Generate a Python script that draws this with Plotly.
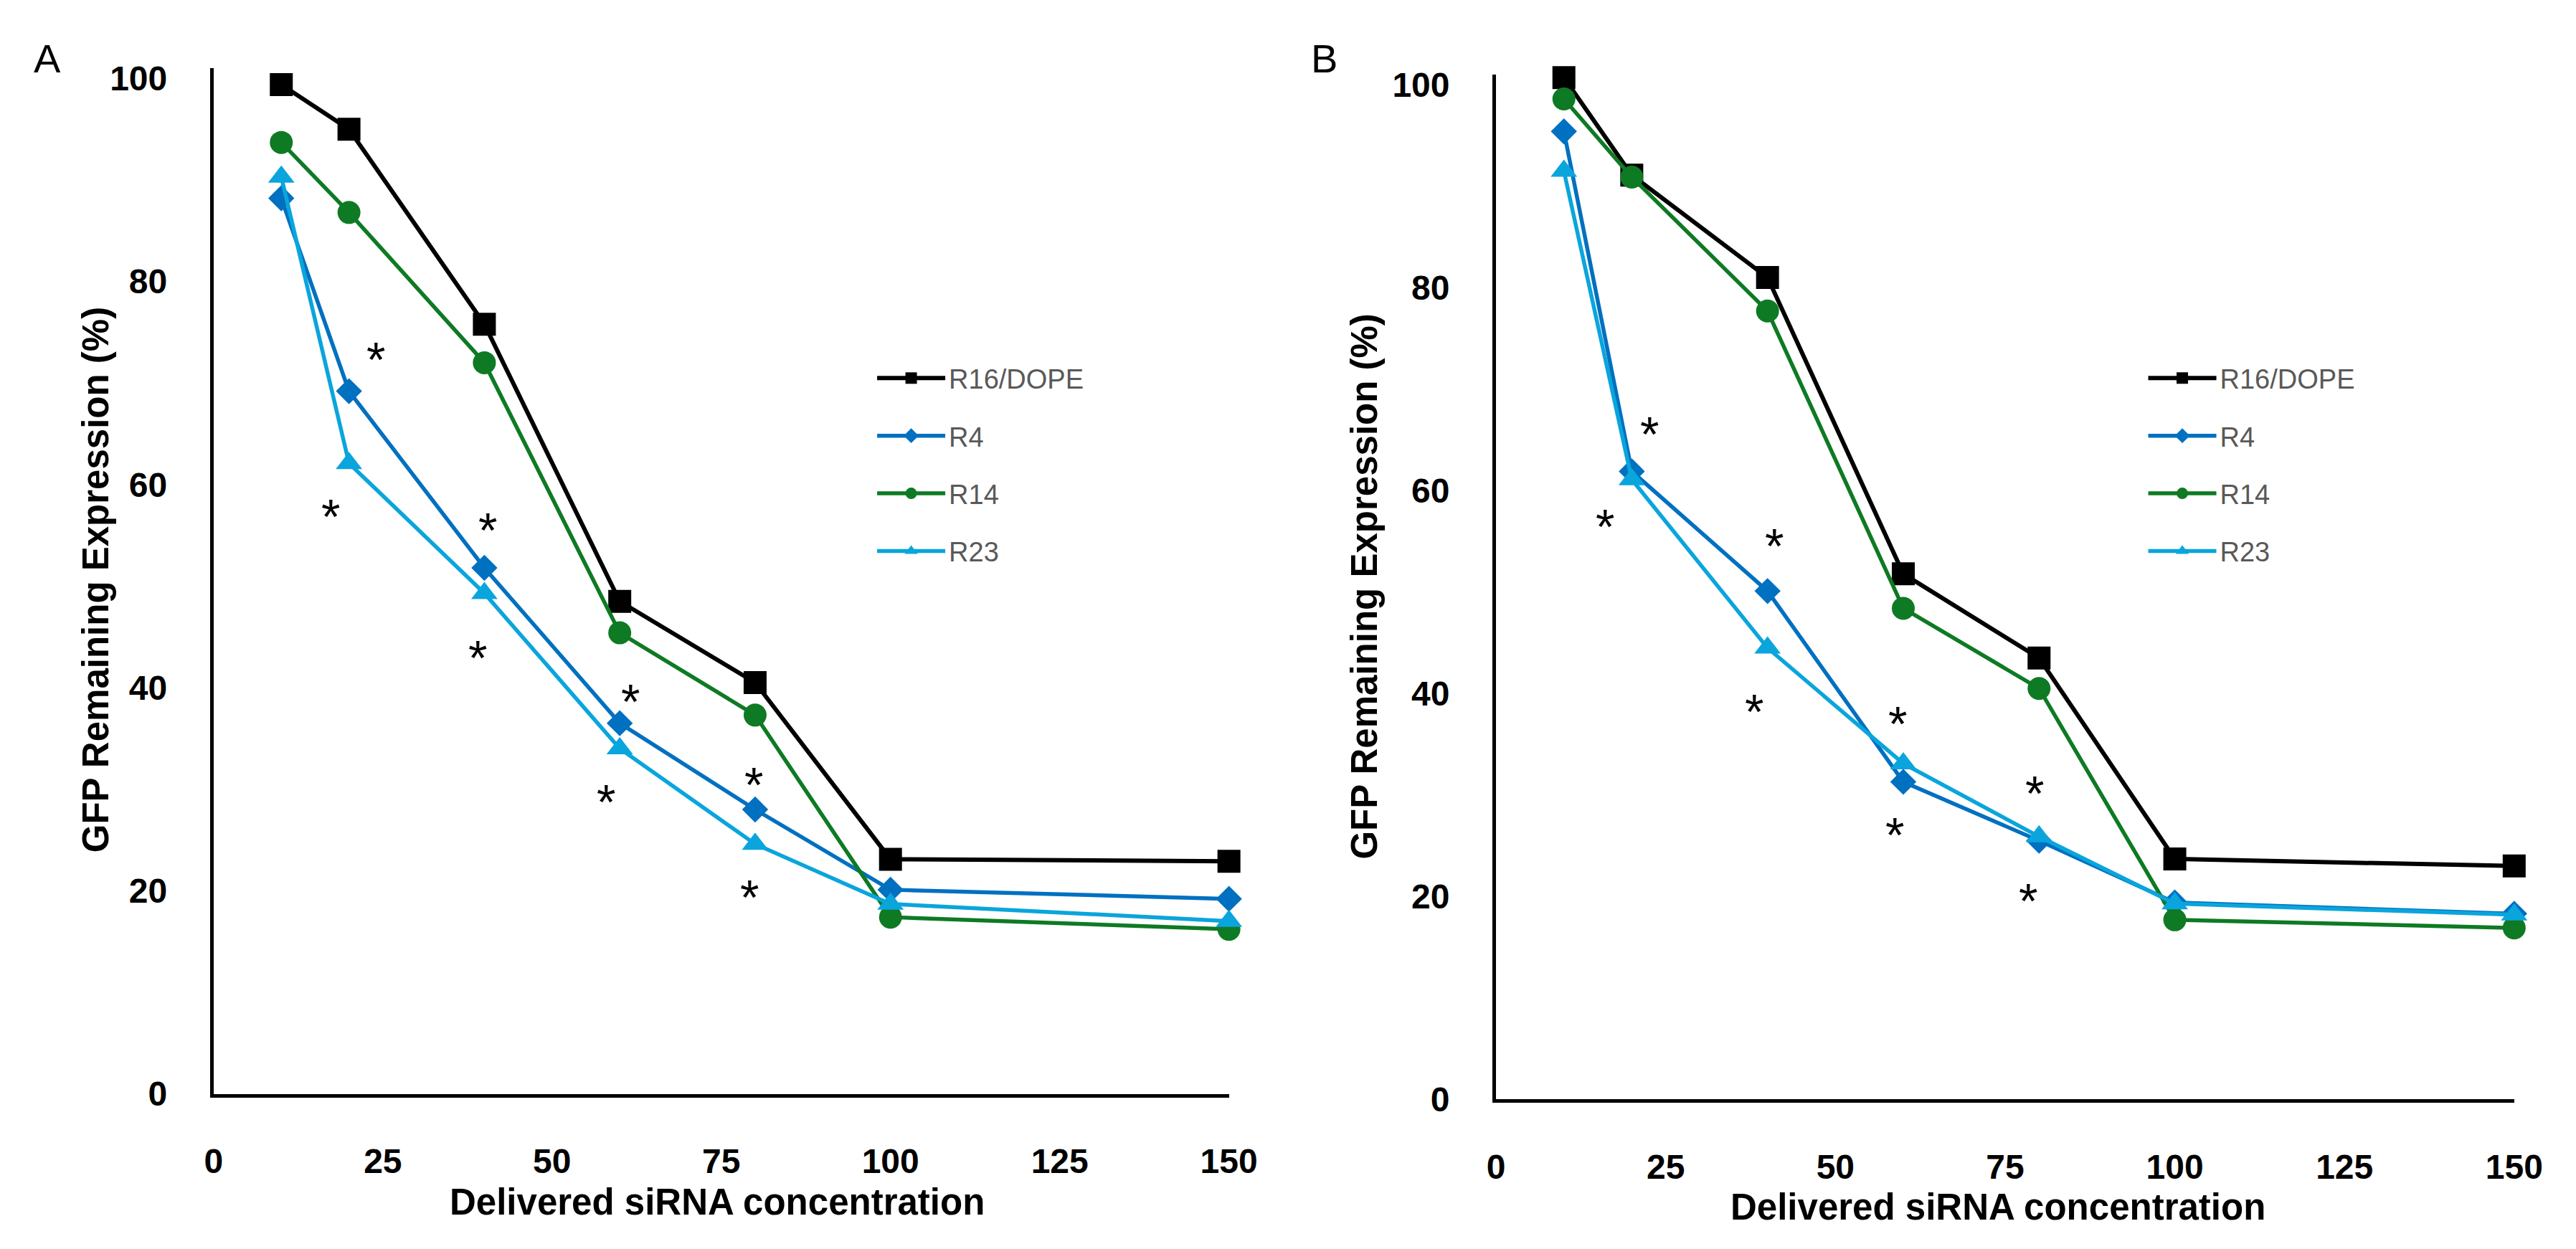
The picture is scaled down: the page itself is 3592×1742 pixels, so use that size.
import plotly.graph_objects as go

# ---------------- data ----------------
conc = [10, 20, 40, 60, 80, 100, 150]
series_names = ["R16/DOPE", "R4", "R14", "R23"]

a_r16 = [99.4, 95.0, 75.8, 48.5, 40.5, 23.1, 22.9]
a_r4 = [88.2, 69.2, 51.8, 36.5, 28.0, 20.1, 19.2]
a_r14 = [93.7, 86.8, 72.0, 45.4, 37.3, 17.4, 16.2]
a_r23 = [90.3, 62.1, 49.3, 34.0, 24.6, 18.7, 17.0]

b_r16 = [100.7, 91.1, 81.0, 51.8, 43.5, 23.7, 23.0]
b_r4 = [95.4, 61.9, 50.1, 31.3, 25.5, 19.4, 18.3]
b_r14 = [98.6, 90.9, 77.7, 48.4, 40.5, 17.7, 16.9]
b_r23 = [91.5, 61.1, 44.5, 33.1, 25.9, 19.3, 18.2]

a_star_x = [24, 17.3, 40.5, 39, 61.6, 58, 79.8, 79.2]
a_star_y = [73.5, 58, 56.7, 44.1, 39.8, 29.9, 31.6, 20.5]
b_star_x = [22.6, 16.1, 41, 38.0, 59.2, 58.7, 79.3, 78.4]
b_star_y = [66.7, 57.6, 55.7, 39.4, 38.2, 27.2, 31.3, 20.7]

x_ticks = [0, 25, 50, 75, 100, 125, 150]
y_ticks = [0, 20, 40, 60, 80, 100]

x_title = "Delivered siRNA concentration"
y_title = "GFP Remaining Expression (%)"

# ---------------- styles ----------------
styles = {
    "R16/DOPE": dict(color="#000000", symbol="square", size=32, width=6),
    "R4": dict(color="#0070C0", symbol="diamond", size=28, width=5.5),
    "R14": dict(color="#0E7A23", symbol="circle", size=32, width=5.5),
    "R23": dict(color="#0AA5DC", symbol="triangle-up", size=32, width=5.5),
}

FONT = "Liberation Sans, Arial, sans-serif"
W, H = 3592, 1742

fig = go.Figure()

panels = [
    ("x", "y", "legend", [a_r16, a_r4, a_r14, a_r23]),
    ("x2", "y2", "legend2", [b_r16, b_r4, b_r14, b_r23]),
]
for xa, ya, lg, vals in panels:
    for name, yv in zip(series_names, vals):
        st = styles[name]
        fig.add_trace(go.Scatter(
            x=conc, y=yv, name=name, mode="lines+markers",
            xaxis=xa, yaxis=ya, legend=lg, legendgroup=lg + name,
            line=dict(color=st["color"], width=st["width"]),
            marker=dict(symbol=st["symbol"], size=st["size"], color=st["color"],
                        line=dict(width=0)),
            cliponaxis=False,
        ))

annotations = []
for xr, yr, sx, sy in [("x", "y", a_star_x, a_star_y), ("x2", "y2", b_star_x, b_star_y)]:
    for xv, yv in zip(sx, sy):
        annotations.append(dict(
            x=xv, y=yv, xref=xr, yref=yr, text="*", showarrow=False,
            font=dict(family=FONT, size=68, color="#000000"), yshift=-16,
        ))

title_font = dict(family=FONT, size=51, color="#000000", weight="bold")
# axis titles and panel letters
annotations += [
    dict(x=994 / W, y=1 - 1694 / H, xref="paper", yref="paper", text=x_title,
         showarrow=False, font=title_font, xanchor="center", yanchor="middle"),
    dict(x=2806 / W, y=1 - 1702 / H, xref="paper", yref="paper", text=x_title,
         showarrow=False, font=title_font, xanchor="center", yanchor="middle"),
    dict(x=115 / W, y=1 - 807 / H, xref="paper", yref="paper", text=y_title,
         showarrow=False, font=title_font, textangle=-90, xanchor="center", yanchor="middle"),
    dict(x=1910 / W, y=1 - 816 / H, xref="paper", yref="paper", text=y_title,
         showarrow=False, font=title_font, textangle=-90, xanchor="center", yanchor="middle"),
    dict(x=46 / W, y=1 - 63 / H, xref="paper", yref="paper", text="A",
         showarrow=False, font=dict(family=FONT, size=56, color="#000000"),
         xanchor="center", yanchor="middle"),
    dict(x=1853 / W, y=1 - 63 / H, xref="paper", yref="paper", text="B",
         showarrow=False, font=dict(family=FONT, size=56, color="#000000"),
         xanchor="center", yanchor="middle"),
]

tick_font = dict(family=FONT, size=48, color="#000000", weight="bold")
xaxis_common = dict(range=[0, 150], tickvals=x_ticks, showline=True, linecolor="#000000",
                    linewidth=5, showgrid=False, zeroline=False, ticks="",
                    tickfont=tick_font, ticklabelstandoff=48, fixedrange=True)
yaxis_common = dict(range=[0, 101], tickvals=y_ticks, showline=True, linecolor="#000000",
                    linewidth=5, showgrid=False, zeroline=False, ticks="",
                    tickfont=tick_font, ticklabelstandoff=50, fixedrange=True)

legend_common = dict(xanchor="left", yanchor="top", bgcolor="rgba(0,0,0,0)",
                     font=dict(family=FONT, size=38, color="#595959"),
                     itemwidth=95, tracegroupgap=28, traceorder="grouped",
                     borderwidth=0)

fig.update_layout(
    width=W, height=H, autosize=False,
    margin=dict(l=0, r=0, t=0, b=0),
    paper_bgcolor="#FFFFFF", plot_bgcolor="#FFFFFF",
    showlegend=True,
    xaxis=dict(domain=[281 / W, 1718 / W], anchor="y", **xaxis_common),
    yaxis=dict(domain=[1 - 1540 / H, 1 - 77 / H], anchor="x", **yaxis_common),
    xaxis2=dict(domain=[2096 / W, 3537 / W], anchor="y2", **xaxis_common),
    yaxis2=dict(domain=[1 - 1548 / H, 1 - 86 / H], anchor="x2", **yaxis_common),
    legend=dict(x=1215 / W, y=1 - 487 / H, **legend_common),
    legend2=dict(x=3014 / W, y=1 - 487 / H, **legend_common),
    annotations=annotations,
)

fig.write_html("out.html")
